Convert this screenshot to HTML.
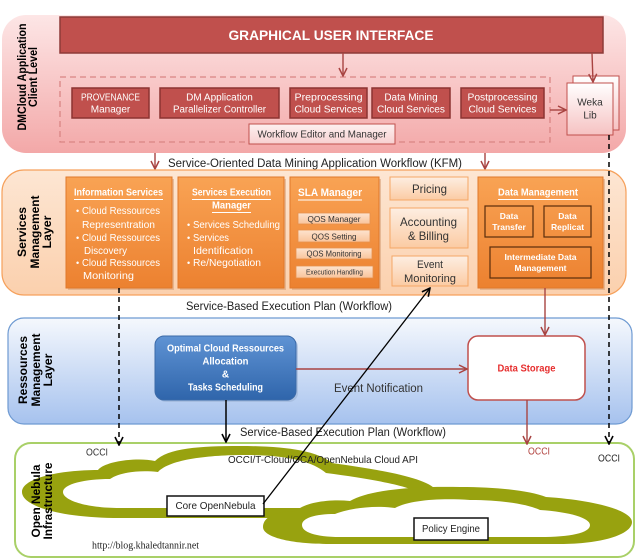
<!DOCTYPE html>
<html><head><meta charset="utf-8">
<style>
html,body{margin:0;padding:0;background:#fff;}
svg{display:block;}
text{font-family:"Liberation Sans",Arial,sans-serif;}
</style></head><body>
<svg width="640" height="559" viewBox="0 0 640 559" xmlns="http://www.w3.org/2000/svg">
<defs>
 <linearGradient id="gPink" x1="0" y1="0" x2="0" y2="1"><stop offset="0" stop-color="#fde6e6"/><stop offset="1" stop-color="#f3a8a8"/></linearGradient>
 <linearGradient id="gOrBand" x1="0" y1="0" x2="0" y2="1"><stop offset="0" stop-color="#fde6d3"/><stop offset="1" stop-color="#fbd0ad"/></linearGradient>
 <linearGradient id="gBlue" x1="0" y1="0" x2="0" y2="1"><stop offset="0" stop-color="#f5f8fd"/><stop offset="1" stop-color="#a6c2ee"/></linearGradient>
 <linearGradient id="gOr" x1="0" y1="0" x2="0" y2="1"><stop offset="0" stop-color="#f9a354"/><stop offset="1" stop-color="#ec8130"/></linearGradient>
 <linearGradient id="gPeach" x1="0" y1="0" x2="0" y2="1"><stop offset="0" stop-color="#fdeee2"/><stop offset="1" stop-color="#fbcba3"/></linearGradient>
 <linearGradient id="gQos" x1="0" y1="0" x2="0" y2="1"><stop offset="0" stop-color="#fde3cf"/><stop offset="1" stop-color="#f9c49b"/></linearGradient>
 <linearGradient id="gBtn" x1="0" y1="0" x2="0" y2="1"><stop offset="0" stop-color="#5f93d4"/><stop offset="1" stop-color="#2f65ab"/></linearGradient>
 <linearGradient id="gWeka" x1="0" y1="0" x2="0" y2="1"><stop offset="0" stop-color="#ffffff"/><stop offset="1" stop-color="#f6c2c2"/></linearGradient>
 <linearGradient id="gWf" x1="0" y1="0" x2="0" y2="1"><stop offset="0" stop-color="#fdf0f0"/><stop offset="1" stop-color="#f8d0d0"/></linearGradient>
 <marker id="aR" markerWidth="10" markerHeight="10" refX="9" refY="5" orient="auto" markerUnits="userSpaceOnUse"><path d="M1,1 L9,5 L1,9" fill="none" stroke="#a84442" stroke-width="1.5"/></marker>
 <marker id="aK" markerWidth="10" markerHeight="10" refX="9" refY="5" orient="auto" markerUnits="userSpaceOnUse"><path d="M1,1 L9,5 L1,9" fill="none" stroke="#000" stroke-width="1.6"/></marker>
</defs>

<!-- ===== Client level (pink) ===== -->
<rect x="2" y="15" width="624" height="138" rx="24" fill="url(#gPink)"/>
<rect x="60" y="17" width="543" height="36" fill="#c0504d" stroke="#8e3a38" stroke-width="1.5"/>
<text x="331" y="35.5" dominant-baseline="central" text-anchor="middle" font-size="13.5" font-weight="bold" fill="#fff" textLength="205" lengthAdjust="spacingAndGlyphs">GRAPHICAL USER INTERFACE</text>

<rect x="60" y="77" width="490" height="65" fill="none" stroke="#d98584" stroke-width="1.3" stroke-dasharray="6,4"/>

<g fill="#c0504d" stroke="#8c3331" stroke-width="1.5">
 <rect x="72" y="88" width="77" height="30"/>
 <rect x="160" y="88" width="119" height="30"/>
 <rect x="290" y="88" width="77" height="30"/>
 <rect x="372" y="88" width="78" height="30"/>
 <rect x="461" y="88" width="83" height="30"/>
</g>
<g fill="#fff" font-size="10" text-anchor="middle" dominant-baseline="central">
 <text x="110.5" y="98" textLength="59" lengthAdjust="spacingAndGlyphs">PROVENANCE</text>
 <text x="110.5" y="110">Manager</text>
 <text x="219.5" y="98">DM Application</text>
 <text x="219.5" y="110" textLength="93" lengthAdjust="spacingAndGlyphs">Parallelizer  Controller</text>
 <text x="328.5" y="98" textLength="68" lengthAdjust="spacingAndGlyphs">Preprocessing</text>
 <text x="328.5" y="110" textLength="68" lengthAdjust="spacingAndGlyphs">Cloud Services</text>
 <text x="411" y="98">Data Mining</text>
 <text x="411" y="110" textLength="68" lengthAdjust="spacingAndGlyphs">Cloud Services</text>
 <text x="502.5" y="98" textLength="70" lengthAdjust="spacingAndGlyphs">Postprocessing</text>
 <text x="502.5" y="110" textLength="68" lengthAdjust="spacingAndGlyphs">Cloud Services</text>
</g>

<rect x="249" y="124" width="146" height="20" fill="url(#gWf)" stroke="#c0504d" stroke-width="1"/>
<text x="322" y="134.5" dominant-baseline="central" text-anchor="middle" font-size="10.5" fill="#333" textLength="129" lengthAdjust="spacingAndGlyphs">Workflow Editor and Manager</text>

<rect x="573" y="76" width="46" height="54" fill="url(#gWeka)" stroke="#c0504d" stroke-width="1"/>
<rect x="567" y="83" width="46" height="52" fill="url(#gWeka)" stroke="#c0504d" stroke-width="1"/>
<text x="590" y="103" dominant-baseline="central" text-anchor="middle" font-size="10" fill="#333">Weka</text>
<text x="590" y="116" dominant-baseline="central" text-anchor="middle" font-size="10" fill="#333">Lib</text>

<g stroke="#a84442" stroke-width="1.4" fill="none">
 <line x1="343" y1="53" x2="343" y2="76" marker-end="url(#aR)"/>
 <line x1="592" y1="53" x2="593" y2="82" marker-end="url(#aR)"/>
 <line x1="550" y1="110" x2="566" y2="110" marker-end="url(#aR)"/>
 <line x1="155" y1="153" x2="155" y2="169" marker-end="url(#aR)"/>
 <line x1="485" y1="153" x2="485" y2="169" marker-end="url(#aR)"/>
</g>

<text x="168" y="164" dominant-baseline="central" font-size="11.5" fill="#222" textLength="294" lengthAdjust="spacingAndGlyphs">Service-Oriented Data Mining Application Workflow (KFM)</text>

<g font-weight="bold" font-size="11.5" fill="#000" text-anchor="middle" dominant-baseline="central">
 <text transform="translate(23,77) rotate(-90)" textLength="107" lengthAdjust="spacingAndGlyphs">DMCloud Application</text>
 <text transform="translate(34,77) rotate(-90)" textLength="60" lengthAdjust="spacingAndGlyphs">Client Level</text>
</g>

<!-- ===== Services management layer ===== -->
<rect x="2" y="170" width="624" height="125" rx="22" fill="url(#gOrBand)" stroke="#f6a15c" stroke-width="1.2"/>
<g font-weight="bold" font-size="11.5" fill="#000" text-anchor="middle" dominant-baseline="central">
 <text transform="translate(23,232) rotate(-90)" textLength="50" lengthAdjust="spacingAndGlyphs">Services</text>
 <text transform="translate(36,232) rotate(-90)" textLength="73" lengthAdjust="spacingAndGlyphs">Management</text>
 <text transform="translate(48,232) rotate(-90)" textLength="33" lengthAdjust="spacingAndGlyphs">Layer</text>
</g>

<g fill="#d9a27a" opacity="0.6">
 <rect x="68" y="179" width="106" height="111"/>
 <rect x="180" y="179" width="106" height="111"/>
 <rect x="292" y="179" width="89" height="111"/>
 <rect x="480" y="179" width="125" height="111"/>
</g>
<g fill="url(#gOr)" stroke="#e0782a" stroke-width="1">
 <rect x="66" y="177" width="106" height="111"/>
 <rect x="178" y="177" width="106" height="111"/>
 <rect x="290" y="177" width="89" height="111"/>
 <rect x="478" y="177" width="125" height="111"/>
</g>

<g fill="#fff" dominant-baseline="central">
 <text x="74" y="193" font-size="10" font-weight="bold" textLength="89" lengthAdjust="spacingAndGlyphs">Information Services</text>
 <text x="192" y="193" font-size="10" font-weight="bold" textLength="79" lengthAdjust="spacingAndGlyphs">Services Execution</text>
 <text x="212" y="206" font-size="10" font-weight="bold" textLength="39" lengthAdjust="spacingAndGlyphs">Manager</text>
 <text x="298" y="193" font-size="11" font-weight="bold" textLength="64" lengthAdjust="spacingAndGlyphs">SLA  Manager</text>
 <text x="498" y="193" font-size="10" font-weight="bold" textLength="80" lengthAdjust="spacingAndGlyphs">Data Management</text>
</g>
<g stroke="#fff" stroke-width="1">
 <line x1="74" y1="199.5" x2="163" y2="199.5"/>
 <line x1="192" y1="199.5" x2="271" y2="199.5"/>
 <line x1="212" y1="212.5" x2="251" y2="212.5"/>
 <line x1="298" y1="200" x2="362" y2="200"/>
 <line x1="498" y1="199.5" x2="578" y2="199.5"/>
</g>
<g fill="#fff" font-size="10.5" dominant-baseline="central">
 <text x="76" y="211" font-size="9">•</text>
 <text x="82" y="211" textLength="78" lengthAdjust="spacingAndGlyphs">Cloud Ressources</text>
 <text x="82" y="225" textLength="73" lengthAdjust="spacingAndGlyphs">Representration</text>
 <text x="76" y="238" font-size="9">•</text>
 <text x="82" y="238" textLength="78" lengthAdjust="spacingAndGlyphs">Cloud Ressources</text>
 <text x="84" y="251" textLength="43" lengthAdjust="spacingAndGlyphs">Discovery</text>
 <text x="76" y="263" font-size="9">•</text>
 <text x="82" y="263" textLength="78" lengthAdjust="spacingAndGlyphs">Cloud Ressources</text>
 <text x="83" y="276" textLength="51" lengthAdjust="spacingAndGlyphs">Monitoring</text>

 <text x="187" y="225" font-size="9">•</text>
 <text x="193" y="225" textLength="87" lengthAdjust="spacingAndGlyphs">Services Scheduling</text>
 <text x="187" y="238" font-size="9">•</text>
 <text x="193" y="238" textLength="36" lengthAdjust="spacingAndGlyphs">Services</text>
 <text x="193" y="251" textLength="60" lengthAdjust="spacingAndGlyphs">Identification</text>
 <text x="187" y="263" font-size="9">•</text>
 <text x="193" y="263" textLength="68" lengthAdjust="spacingAndGlyphs">Re/Negotiation</text>
</g>

<g fill="url(#gQos)" stroke="#e7904c" stroke-width="0.8">
 <rect x="298" y="213" width="72" height="11"/>
 <rect x="298" y="230" width="72" height="12"/>
 <rect x="296" y="248" width="76" height="11"/>
 <rect x="296" y="266" width="77" height="12"/>
</g>
<g fill="#333" text-anchor="middle" dominant-baseline="central">
 <text x="334" y="218.8" font-size="8.5" textLength="53" lengthAdjust="spacingAndGlyphs">QOS Manager</text>
 <text x="334" y="236.3" font-size="8.5" textLength="45" lengthAdjust="spacingAndGlyphs">QOS Setting</text>
 <text x="334" y="253.8" font-size="8" textLength="55" lengthAdjust="spacingAndGlyphs">QOS Monitoring</text>
 <text x="334.5" y="272.2" font-size="7.5" textLength="57" lengthAdjust="spacingAndGlyphs">Execution Handling</text>
</g>

<g fill="url(#gPeach)" stroke="#f5a766" stroke-width="1">
 <rect x="390" y="177" width="78" height="23"/>
 <rect x="390" y="208" width="78" height="40"/>
 <rect x="392" y="256" width="76" height="30"/>
</g>
<g fill="#333" text-anchor="middle" dominant-baseline="central" font-size="12">
 <text x="429.5" y="189" textLength="35" lengthAdjust="spacingAndGlyphs">Pricing</text>
 <text x="428.5" y="222" textLength="57" lengthAdjust="spacingAndGlyphs">Accounting</text>
 <text x="428.5" y="236" textLength="41" lengthAdjust="spacingAndGlyphs">&amp; Billing</text>
 <text x="430" y="265" font-size="11" textLength="26" lengthAdjust="spacingAndGlyphs">Event</text>
 <text x="430" y="279" font-size="11" textLength="52" lengthAdjust="spacingAndGlyphs">Monitoring</text>
</g>

<g fill="none" stroke="#5a2d0c" stroke-width="1.2">
 <rect x="485" y="206" width="48" height="31"/>
 <rect x="544" y="206" width="47" height="31"/>
 <rect x="490" y="247" width="101" height="31"/>
</g>
<g fill="#fff" font-weight="bold" font-size="8.5" text-anchor="middle" dominant-baseline="central">
 <text x="509" y="216">Data</text>
 <text x="509" y="227">Transfer</text>
 <text x="567.5" y="216">Data</text>
 <text x="567.5" y="227">Replicat</text>
 <text x="540.5" y="257" textLength="72" lengthAdjust="spacingAndGlyphs">Intermediate Data</text>
 <text x="540.5" y="268">Management</text>
</g>

<text x="186" y="307" dominant-baseline="central" font-size="11.5" fill="#222" textLength="206" lengthAdjust="spacingAndGlyphs">Service-Based Execution Plan (Workflow)</text>

<!-- ===== Ressources management layer ===== -->
<rect x="8" y="318" width="624" height="106" rx="16" fill="url(#gBlue)" stroke="#6e9ad2" stroke-width="1.2"/>
<g font-weight="bold" font-size="11.5" fill="#000" text-anchor="middle" dominant-baseline="central">
 <text transform="translate(24,370) rotate(-90)" textLength="68" lengthAdjust="spacingAndGlyphs">Ressources</text>
 <text transform="translate(37,370) rotate(-90)" textLength="73" lengthAdjust="spacingAndGlyphs">Management</text>
 <text transform="translate(49,370) rotate(-90)" textLength="33" lengthAdjust="spacingAndGlyphs">Layer</text>
</g>

<rect x="157" y="338" width="141" height="64" rx="9" fill="#9bb3d6" opacity="0.6"/>
<rect x="155" y="336" width="141" height="64" rx="9" fill="url(#gBtn)" stroke="#3b6aa8" stroke-width="1"/>
<g fill="#fff" font-weight="bold" font-size="10" text-anchor="middle" dominant-baseline="central">
 <text x="225.5" y="349" textLength="117" lengthAdjust="spacingAndGlyphs">Optimal Cloud Ressources</text>
 <text x="225.5" y="362" textLength="46" lengthAdjust="spacingAndGlyphs">Allocation</text>
 <text x="225.5" y="375">&amp;</text>
 <text x="225.5" y="388" textLength="75" lengthAdjust="spacingAndGlyphs">Tasks Scheduling</text>
</g>

<rect x="468" y="336" width="117" height="64" rx="10" fill="#fff" stroke="#c0504d" stroke-width="1.5"/>
<text x="526.5" y="369" dominant-baseline="central" text-anchor="middle" font-size="10" font-weight="bold" fill="#e62e2e" textLength="58" lengthAdjust="spacingAndGlyphs">Data Storage</text>

<text x="334" y="389" dominant-baseline="central" font-size="11.5" fill="#333" textLength="89" lengthAdjust="spacingAndGlyphs">Event Notification</text>
<text x="240" y="433" dominant-baseline="central" font-size="11.5" fill="#222" textLength="206" lengthAdjust="spacingAndGlyphs">Service-Based Execution Plan (Workflow)</text>

<!-- ===== Open Nebula ===== -->
<rect x="15" y="443" width="619" height="114" rx="16" fill="#fff" stroke="#a9d068" stroke-width="2"/>

<!-- cloud 1 -->
<path fill="#98a20f" d="M22,492 C22,478 60,470 98,470 C105,461 138,457 155,461 C168,448 200,446 240,446 C282,446 316,450 332,463 C382,470 427,478 436,490 C442,506 392,518 330,518 L120,518 C60,518 22,506 22,492 Z"/>
<path fill="#fff" d="M63,492 C63,484 85,479 110,479 C120,472 140,470 158,472 C170,459 210,455 245,455 C286,455 312,461 326,473 C372,479 410,486 418,493 C420,503 382,508 330,508 L120,508 C85,508 63,500 63,492 Z"/>
<!-- cloud 2 -->
<path fill="#98a20f" d="M263,527 C263,517 276,511 296,511 C306,502 330,499 350,501 C370,489 420,486 460,487 C500,487 530,491 546,497 C592,500 632,510 632,522 C632,535 600,544 560,544 L330,544 C290,544 263,537 263,527 Z"/>
<path fill="#fff" d="M302,525 C302,518 315,514 335,514 C350,508 375,505 395,508 C410,500 440,498 470,500 C505,500 530,505 540,510 C570,512 590,518 590,525 C590,533 570,537 540,537 L340,537 C315,537 302,532 302,525 Z"/>

<g font-weight="bold" font-size="11.5" fill="#000" text-anchor="middle" dominant-baseline="central">
 <text transform="translate(37,501) rotate(-90)" textLength="73" lengthAdjust="spacingAndGlyphs">Open Nebula</text>
 <text transform="translate(49,501) rotate(-90)" textLength="77" lengthAdjust="spacingAndGlyphs">Infrastructure</text>
</g>

<g font-size="10" dominant-baseline="central">
 <text x="86" y="453" fill="#333" textLength="22" lengthAdjust="spacingAndGlyphs">OCCI</text>
 <text x="228" y="460" fill="#222" font-size="10.5" textLength="190" lengthAdjust="spacingAndGlyphs">OCCI/T-Cloud/OCA/OpenNebula Cloud API</text>
 <text x="528" y="452" fill="#b0403d" textLength="22" lengthAdjust="spacingAndGlyphs">OCCI</text>
 <text x="598" y="459" fill="#222" textLength="22" lengthAdjust="spacingAndGlyphs">OCCI</text>
</g>

<rect x="167" y="496" width="97" height="20" fill="#fff" stroke="#111" stroke-width="1.5"/>
<text x="215.5" y="506" dominant-baseline="central" text-anchor="middle" font-size="10.5" fill="#222" textLength="80" lengthAdjust="spacingAndGlyphs">Core OpenNebula</text>
<rect x="414" y="518" width="74" height="22" fill="#fff" stroke="#111" stroke-width="1.5"/>
<text x="451" y="529" dominant-baseline="central" text-anchor="middle" font-size="10.5" fill="#222" textLength="58" lengthAdjust="spacingAndGlyphs">Policy Engine</text>

<text x="92" y="546" dominant-baseline="central" font-size="10" fill="#222" textLength="107" lengthAdjust="spacingAndGlyphs" style="font-family:'Liberation Serif',serif">http://blog.khaledtannir.net</text>

<!-- ===== connectors ===== -->
<g stroke="#a84442" stroke-width="1.4" fill="none">
 <line x1="545" y1="288" x2="545" y2="335" marker-end="url(#aR)"/>
 <line x1="296" y1="369" x2="467" y2="369" marker-end="url(#aR)"/>
 <line x1="527" y1="400" x2="527" y2="444" marker-end="url(#aR)"/>
</g>
<g stroke="#000" stroke-width="1.5" fill="none">
 <line x1="119" y1="288" x2="119" y2="445" stroke-dasharray="5,4" marker-end="url(#aK)"/>
 <line x1="609" y1="135" x2="609" y2="444" stroke-dasharray="5,4" marker-end="url(#aK)"/>
 <line x1="226" y1="400" x2="226" y2="442" marker-end="url(#aK)"/>
 <line x1="263" y1="504" x2="430" y2="288" stroke-width="1.3" marker-end="url(#aK)"/>
</g>
</svg>
</body></html>
